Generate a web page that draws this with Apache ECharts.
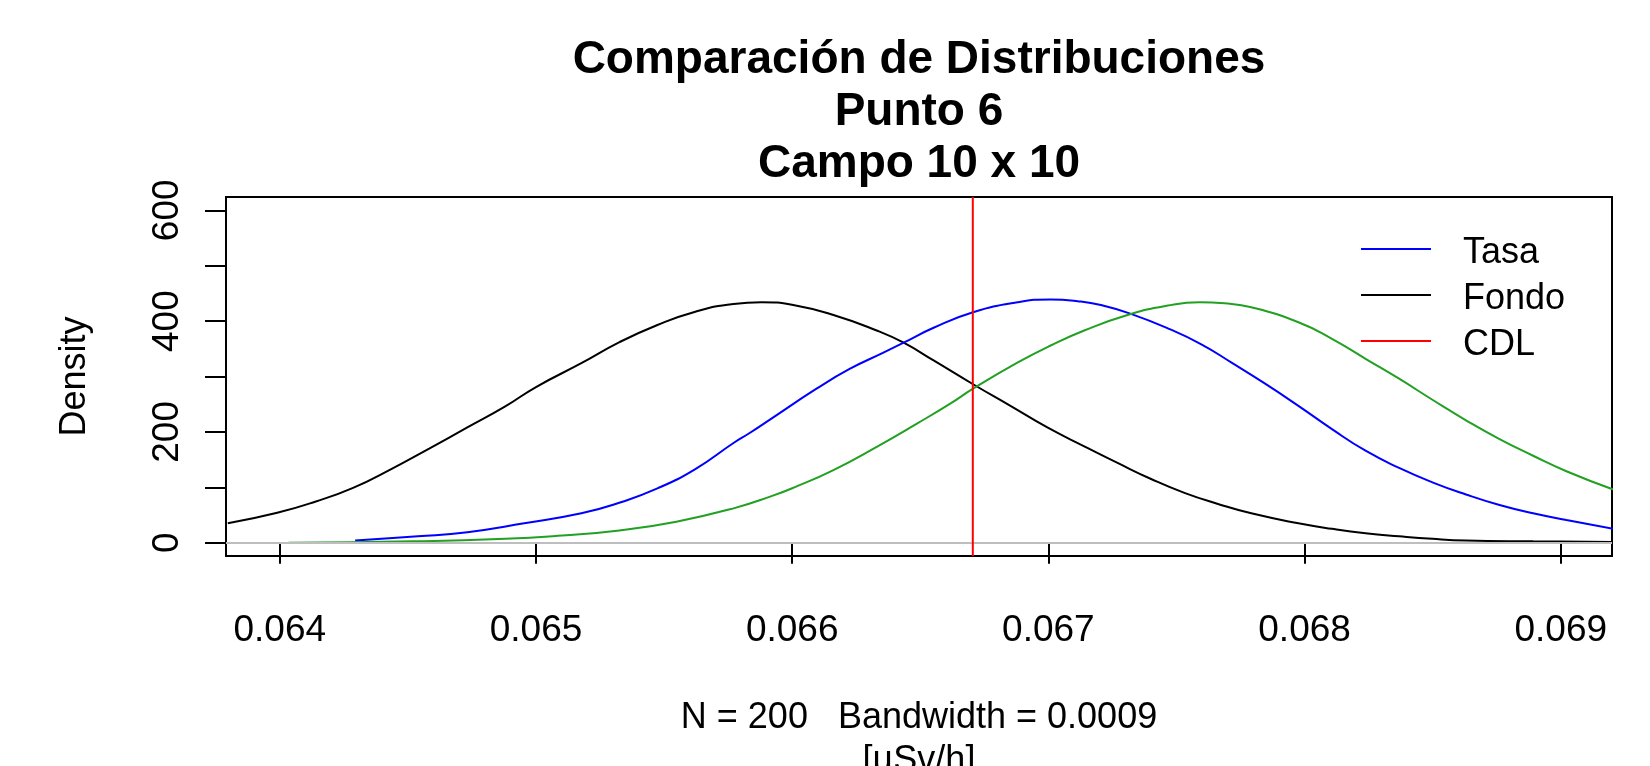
<!DOCTYPE html>
<html>
<head>
<meta charset="utf-8">
<script src="https://cdn.jsdelivr.net/npm/echarts@6/dist/echarts.min.js"></script>
<style>
  html, body { margin: 0; background: #fff; }
  #chart { width: 1650px; height: 766px; }
</style>
</head>
<body>
<div id="chart"></div>
<script>
const FONT = "'Liberation Sans', Arial, sans-serif"

const titleLines = ["Comparación de Distribuciones", "Punto 6", "Campo 10 x 10"]
const xLabelLines = ["N = 200   Bandwidth = 0.0009", "[µSv/h]"]
const yLabel = "Density"
const legendNames = ["Tasa", "Fondo", "CDL"]

const xRange = [0.06379, 0.0692]
const yRange = [-24, 624]
const xTicks = [0.064, 0.065, 0.066, 0.067, 0.068, 0.069]
const yTicks = [0, 100, 200, 300, 400, 500, 600]
const yTickLabels = [0, 200, 400, 600]
const cdl = 0.066705

// density curves: [x, density]
const tasa = [
  [0.064294, 4], [0.064539, 11.5], [0.064732, 19], [0.064954, 35], [0.065177, 53],
  [0.065325, 72], [0.065474, 98], [0.065622, 133], [0.065771, 180], [0.065834, 198],
  [0.065919, 224], [0.066095, 278], [0.066226, 314], [0.066356, 343],
  [0.066435, 361], [0.066552, 388], [0.066706, 416], [0.066879, 434], [0.067009, 439],
  [0.067114, 436], [0.067205, 429], [0.067322, 413], [0.067466, 387], [0.067597, 358],
  [0.067715, 325], [0.067846, 287], [0.067976, 247], [0.068107, 205],
  [0.068238, 166], [0.068369, 135], [0.068499, 109], [0.068630, 87], [0.068761, 68],
  [0.068892, 53], [0.069022, 41], [0.069205, 25]
]

const fondo = [
  [0.063797, 35], [0.063990, 54], [0.064138, 74], [0.064286, 99], [0.064435, 133],
  [0.064583, 170], [0.064732, 208], [0.064880, 246], [0.065000, 281], [0.065177, 324],
  [0.065326, 362], [0.065474, 393], [0.065622, 417], [0.065771, 431], [0.065880, 434],
  [0.066004, 429], [0.066161, 411], [0.066330, 383], [0.066435, 361], [0.066552, 329],
  [0.066706, 286], [0.066852, 247], [0.066996, 208], [0.067140, 174], [0.067270, 144],
  [0.067401, 115], [0.067531, 90], [0.067662, 70], [0.067792, 53],
  [0.067976, 35], [0.068107, 25], [0.068238, 17], [0.068369, 11.5], [0.068499, 7],
  [0.068630, 4], [0.068892, 2.4], [0.069205, 1.2]
]

const verde = [
  [0.064034, 0], [0.064520, 2.4], [0.064880, 7], [0.065102, 13], [0.065326, 22],
  [0.065548, 38], [0.065771, 62], [0.065919, 84], [0.066004, 99],
  [0.066161, 131], [0.066330, 173], [0.066487, 215], [0.066617, 251], [0.066706, 278],
  [0.066879, 325], [0.067009, 356], [0.067140, 383], [0.067309, 411], [0.067466, 428],
  [0.067590, 434], [0.067688, 432], [0.067792, 425], [0.067976, 398],
  [0.068107, 368], [0.068238, 332], [0.068369, 296], [0.068499, 258], [0.068630, 221],
  [0.068761, 187], [0.068892, 157], [0.069022, 129], [0.069205, 96]
]

const chart = echarts.init(document.getElementById("chart"), null, { renderer: "canvas" })

function curve(name, data, color) {
  return {
    name,
    type: "line",
    data,
    color,
    smooth: 0.5,
    showSymbol: false,
    silent: true,
    z: 3,
    lineStyle: { color, width: 2 }
  }
}

chart.setOption({
  animation: false,
  backgroundColor: "#fff",
  title: [
    {
      text: titleLines.join("\n"),
      left: 919,
      top: 34,
      padding: 0,
      textAlign: "center",
      textStyle: { fontFamily: FONT, fontSize: 46, fontWeight: "bold", lineHeight: 52, color: "#000" }
    },
    {
      text: xLabelLines.join("\n"),
      left: 919,
      top: 697,
      padding: 0,
      textAlign: "center",
      textStyle: { fontFamily: FONT, fontSize: 36, fontWeight: "normal", lineHeight: 43, color: "#000" }
    }
  ],
  legend: {
    data: legendNames,
    orient: "vertical",
    left: 1361,
    top: 235,
    padding: 0,
    itemGap: 10,
    itemWidth: 70,
    itemHeight: 10,
    // line at the top of the icon box so the label sits a little below it, as in R
    icon: "path://M0,0H70V2H0ZM0,10L70,10Z",
    itemStyle: { borderWidth: 0 },
    selectedMode: false,
    textStyle: { fontFamily: FONT, fontSize: 36, lineHeight: 36, color: "#000", padding: [0, 0, 0, 27] }
  },
  grid: {
    left: 226,
    right: 38,
    top: 197,
    bottom: 210,
    show: true,
    borderColor: "#000",
    borderWidth: 2
  },
  xAxis: {
    type: "value",
    min: xRange[0],
    max: xRange[1],
    axisLine: { show: false },
    splitLine: { show: false },
    axisTick: { show: true, length: 21, customValues: xTicks, lineStyle: { color: "#000", width: 2 } },
    axisLabel: {
      customValues: xTicks,
      formatter: (value) => value.toFixed(3),
      margin: 56,
      color: "#000",
      fontFamily: FONT,
      fontSize: 37
    }
  },
  yAxis: {
    type: "value",
    min: yRange[0],
    max: yRange[1],
    name: yLabel,
    nameLocation: "middle",
    nameRotate: 90,
    nameGap: 133,
    nameTextStyle: { fontFamily: FONT, fontSize: 36, color: "#000" },
    axisLine: { show: false },
    splitLine: { show: false },
    axisTick: { show: true, length: 21, customValues: yTicks, lineStyle: { color: "#000", width: 2 } },
    axisLabel: {
      customValues: yTickLabels,
      rotate: 90,
      margin: 40,
      color: "#000",
      fontFamily: FONT,
      fontSize: 37
    }
  },
  series: [
    {
      ...curve("Fondo", fondo, "#000000"),
      markLine: {
        silent: true,
        symbol: ["none", "none"],
        label: { show: false },
        lineStyle: { color: "#bebebe", width: 2, type: "solid" },
        data: [{ yAxis: 0 }]
      }
    },
    curve("Tasa", tasa, "#0000ff"),
    curve("Verde", verde, "#22a022"),
    {
      name: "CDL",
      type: "line",
      data: [[cdl, yRange[0]], [cdl, yRange[1]]],
      color: "#ff0000",
      showSymbol: false,
      silent: true,
      z: 5,
      lineStyle: { color: "#ff0000", width: 2 }
    }
  ]
})
</script>
</body>
</html>
